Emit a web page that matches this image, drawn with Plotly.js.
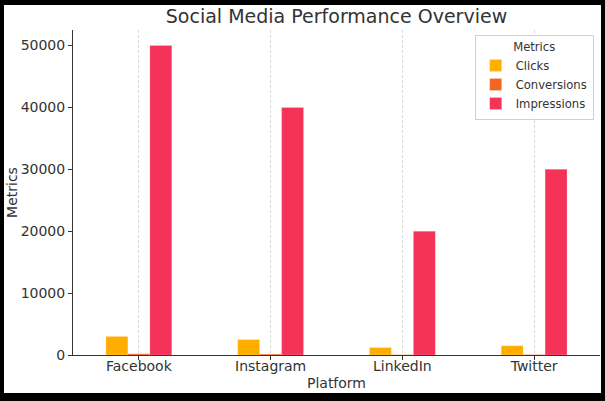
<!DOCTYPE html>
<html>
<head>
<meta charset="utf-8">
<script src="https://cdn.plot.ly/plotly-3.0.1.min.js"></script>
<style>
html, body { margin:0; padding:0; background:#000; width:605px; height:401px; overflow:hidden; }
#chart { position:absolute; left:4px; top:5px; width:597px; height:388px; background:#fff; }
</style>
</head>
<body>
<div id="chart"></div>
<script>
const platforms = ["Facebook", "Instagram", "LinkedIn", "Twitter"];
const clicks = [3000, 2500, 1200, 1500];
const conversions = [200, 150, 50, 70];
const impressions = [50000, 40000, 20000, 30000];
const seriesNames = ["Clicks", "Conversions", "Impressions"];
const seriesColors = ["#FFAE00", "#F26522", "#F53257"];
const yTicks = [0, 10000, 20000, 30000, 40000, 50000];

const seriesData = [clicks, conversions, impressions];
const traces = seriesData.map((vals, i) => ({
  type: "bar",
  name: seriesNames[i],
  x: platforms,
  y: vals,
  marker: { color: seriesColors[i], line: { color: "rgba(255,255,255,0.35)", width: 0.6 } }
}));

const font = "DejaVu Sans, sans-serif";
const layout = {
  width: 597, height: 388,
  margin: { l: 69, r: 1, t: 25, b: 38 },
  paper_bgcolor: "#fff", plot_bgcolor: "#fff",
  barmode: "group", bargap: 0.5, bargroupgap: 0,
  font: { family: font, color: "#333", size: 14 },
  title: { text: "Social Media Performance Overview", font: { family: font, size: 19, color: "#333" },
           x: 0.5, xref: "paper", xanchor: "center", y: 0.972, yref: "container", yanchor: "middle" },
  xaxis: {
    range: [-0.5, 3.5],
    showline: true, linecolor: "#333", linewidth: 1,
    ticks: "outside", ticklen: 4, tickcolor: "#333",
    ticklabelstandoff: -6,
    showgrid: true, gridcolor: "#cfcfcf", griddash: "3px,2px", gridwidth: 0.8,
    tickfont: { family: font, size: 14, color: "#333" },
    title: { text: "Platform", font: { family: font, size: 14, color: "#333" }, standoff: 5 },
    zeroline: false, fixedrange: true
  },
  yaxis: {
    range: [0, 52500],
    tickvals: yTicks, ticktext: yTicks.map(String),
    showline: true, linecolor: "#333", linewidth: 1,
    ticks: "outside", ticklen: 4, tickcolor: "#333",
    showgrid: false, zeroline: false,
    tickfont: { family: font, size: 14, color: "#333" },
    title: { text: "Metrics", font: { family: font, size: 14, color: "#333" }, standoff: 6 },
    fixedrange: true
  },
  showlegend: true,
  legend: {
    x: 0.988, xanchor: "right", y: 0.985, yanchor: "top",
    bgcolor: "rgba(255,255,255,0.85)", bordercolor: "#d0d0d0", borderwidth: 1,
    font: { family: font, size: 11.6, color: "#333" },
    title: { text: "Metrics", side: "top center", font: { family: font, size: 11.6, color: "#333" } },
    tracegroupgap: 0, itemwidth: 30
  }
};

Plotly.newPlot("chart", traces, layout, { displayModeBar: false, staticPlot: true });
</script>
</body>
</html>
